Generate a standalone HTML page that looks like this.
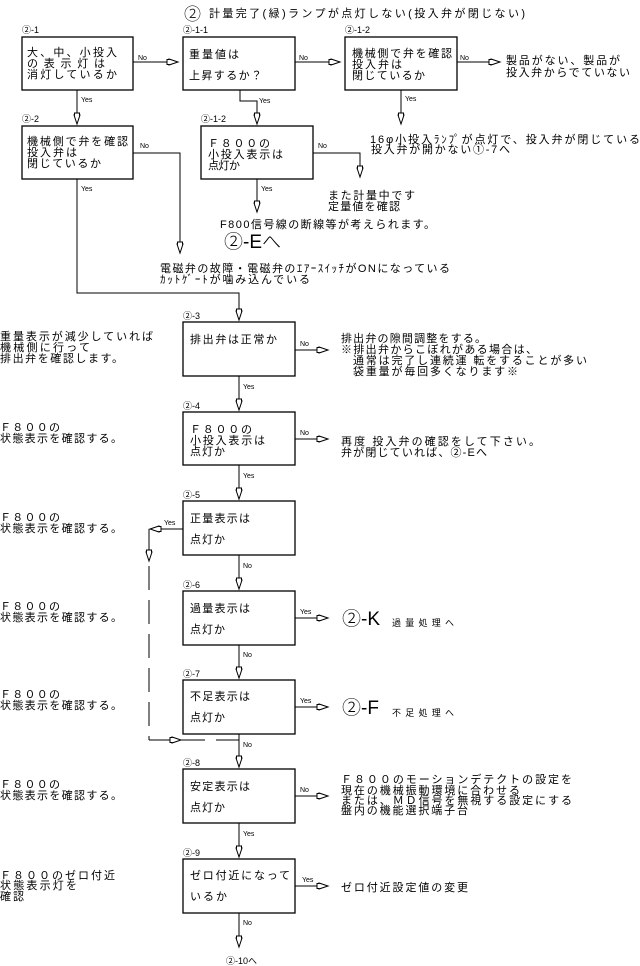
<!DOCTYPE html>
<html><head><meta charset="utf-8">
<style>
html,body{margin:0;padding:0;background:#fff;}
svg{display:block;}
text{font-family:"Liberation Sans","Noto Sans CJK JP",sans-serif;fill:#000;}
.t{font-size:11px;}
.s{font-size:9px;}
.y{font-size:7px;font-family:"Liberation Mono",monospace;}
.b{font-size:19px;font-weight:300;}
</style></head>
<body>
<svg width="640" height="966" viewBox="0 0 640 966" xmlns="http://www.w3.org/2000/svg">
<defs>
<marker id="a" markerUnits="userSpaceOnUse" markerWidth="14" markerHeight="10" refX="12" refY="4" orient="auto">
<path d="M1,1.5 L3,1.5 L3,1 L12,4 L3,7 L3,6.5 L1,6.5 Z" fill="#fff" stroke="#000" stroke-width="1"/>
</marker>
</defs>
<g stroke="#000" stroke-width="1.3" fill="none">
<!-- boxes -->
<rect x="22" y="37" width="111" height="53"/>
<rect x="183" y="37" width="112" height="53"/>
<rect x="345" y="37" width="112" height="53"/>
<rect x="22" y="126" width="111" height="53"/>
<rect x="201" y="126" width="112" height="53"/>
<rect x="183" y="322" width="112" height="54"/>
<rect x="183" y="412" width="112" height="53"/>
<rect x="183" y="501" width="112" height="54"/>
<rect x="183" y="591" width="112" height="54"/>
<rect x="183" y="680" width="112" height="54"/>
<rect x="183" y="769" width="112" height="54"/>
<rect x="183" y="859" width="112" height="54"/>
</g>
<g stroke="#000" stroke-width="1" fill="none" marker-end="url(#a)">
<path d="M133,62 H178"/>
<path d="M295,62 H340"/>
<path d="M457,62 H500"/>
<path d="M77,90 V124"/>
<path d="M240,90 V101 H257 V124"/>
<path d="M401,90 V124"/>
<path d="M133,153 H180 V253"/>
<path d="M313,153 H360 V177"/>
<path d="M257,179 V212"/>
<path d="M77,179 V293 H239 V320"/>
<path d="M295,350 H328"/>
<path d="M239,376 V410"/>
<path d="M295,439 H328"/>
<path d="M239,465 V499"/>
<path d="M183,529 H150"/>
<path d="M149,529 V561"/>
<path d="M239,555 V589"/>
<path d="M295,618 H328"/>
<path d="M239,645 V678"/>
<path d="M295,707 H328"/>
<path d="M149,740 H181"/>
<path d="M239,734 V767"/>
<path d="M295,796 H328"/>
<path d="M239,823 V857"/>
<path d="M295,886 H328"/>
<path d="M239,913 V947"/>
</g>
<g stroke="#000" stroke-width="1" fill="none">
<path d="M149,566 V740" stroke-dasharray="24 10"/>
<path d="M180,740 H205 M216,740 H239"/>
</g>
<!-- title -->
<text class="b" x="184" y="20" style="font-size:17px">②</text>
<text class="t" x="209" y="17" textLength="316" lengthAdjust="spacing">計量完了(緑)ランプが点灯しない(投入弁が閉じない)</text>
<!-- step labels -->
<text class="s" x="22" y="33">②-1</text>
<text class="s" x="183" y="33">②-1-1</text>
<text class="s" x="345" y="33">②-1-2</text>
<text class="s" x="22" y="122">②-2</text>
<text class="s" x="201" y="122">②-1-2</text>
<text class="s" x="183" y="319">②-3</text>
<text class="s" x="183" y="409">②-4</text>
<text class="s" x="183" y="498">②-5</text>
<text class="s" x="183" y="588">②-6</text>
<text class="s" x="183" y="677">②-7</text>
<text class="s" x="183" y="766">②-8</text>
<text class="s" x="183" y="856">②-9</text>
<!-- yes/no -->
<g class="y">
<text x="138" y="60">No</text><text x="299" y="60">No</text><text x="460" y="60">No</text>
<text x="81" y="102">Yes</text><text x="259" y="103">Yes</text><text x="405" y="101">Yes</text>
<text x="140" y="148">No</text><text x="318" y="148">No</text>
<text x="81" y="191">Yes</text><text x="261" y="191">Yes</text>
<text x="300" y="346">No</text><text x="243" y="389">Yes</text>
<text x="300" y="435">No</text><text x="243" y="478">Yes</text>
<text x="164" y="525">Yes</text><text x="243" y="568">No</text>
<text x="300" y="614">Yes</text><text x="243" y="657">No</text>
<text x="300" y="703">Yes</text><text x="243" y="747">No</text>
<text x="300" y="792">No</text><text x="243" y="836">Yes</text>
<text x="302" y="882">Yes</text><text x="243" y="925">No</text>
</g>
<!-- box texts -->
<g class="t">
<text x="27" y="56" textLength="90">大、中、小投入</text>
<text x="27" y="67" textLength="78">の表示灯は</text>
<text x="27" y="78" textLength="90">消灯しているか</text>
<text x="189" y="58" textLength="50">重量値は</text>
<text x="189" y="79" textLength="73">上昇するか？</text>
<text x="352" y="57" textLength="100">機械側で弁を確認</text>
<text x="352" y="68" textLength="50">投入弁は</text>
<text x="352" y="79" textLength="73">閉じているか</text>
<text x="506" y="64" textLength="114">製品がない、製品が</text>
<text x="506" y="76" textLength="124">投入弁からでていない</text>
<text x="27" y="145" textLength="101">機械側で弁を確認</text>
<text x="27" y="156" textLength="50">投入弁は</text>
<text x="27" y="167" textLength="74">閉じているか</text>
<text x="208" y="147" textLength="62">Ｆ８００の</text>
<text x="208" y="158" textLength="75">小投入表示は</text>
<text x="208" y="169" textLength="32">点灯か</text>
<text x="370" y="143" textLength="270">16φ小投入ﾗﾝﾌﾟが点灯で、投入弁が閉じている</text>
<text x="371" y="153" textLength="139">投入弁が開かない①-7へ</text>
<text x="328" y="199" textLength="87">また計量中です</text>
<text x="328" y="210" textLength="72">定量値を確認</text>
<text x="220" y="228" textLength="215">F800信号線の断線等が考えられます。</text>
<text x="160" y="272" textLength="290">電磁弁の故障・電磁弁のｴｱｰｽｲｯﾁがONになっている</text>
<text x="160" y="283" textLength="150">ｶｯﾄｹﾞｰﾄが噛み込んでいる</text>
<text x="0" y="340" textLength="153">重量表示が減少していれば</text>
<text x="0" y="351" textLength="90">機械側に行って</text>
<text x="0" y="362" textLength="123">排出弁を確認します。</text>
<text x="190" y="343" textLength="87">排出弁は正常か</text>
<text x="341" y="342" textLength="145">排出弁の隙間調整をする。</text>
<text x="341" y="353" textLength="196">※排出弁からこぼれがある場合は、</text>
<text x="353" y="364" textLength="234">通常は完了し連続運 転をすることが多い</text>
<text x="353" y="375" textLength="165">袋重量が毎回多くなります※</text>
<text x="0" y="431" textLength="60">Ｆ８００の</text>
<text x="0" y="442" textLength="122">状態表示を確認する。</text>
<text x="190" y="433" textLength="62">Ｆ８００の</text>
<text x="190" y="444" textLength="75">小投入表示は</text>
<text x="190" y="455" textLength="35">点灯か</text>
<text x="341" y="445" textLength="199">再度 投入弁の確認をして下さい。</text>
<text x="341" y="456" textLength="146">弁が閉じていれば、②-Eへ</text>
<text x="0" y="521" textLength="60">Ｆ８００の</text>
<text x="0" y="532" textLength="122">状態表示を確認する。</text>
<text x="190" y="522" textLength="60">正量表示は</text>
<text x="190" y="543" textLength="35">点灯か</text>
<text x="0" y="610" textLength="60">Ｆ８００の</text>
<text x="0" y="621" textLength="122">状態表示を確認する。</text>
<text x="190" y="612" textLength="60">過量表示は</text>
<text x="190" y="633" textLength="35">点灯か</text>
<text x="0" y="698" textLength="60">Ｆ８００の</text>
<text x="0" y="709" textLength="122">状態表示を確認する。</text>
<text x="190" y="700" textLength="60">不足表示は</text>
<text x="190" y="721" textLength="35">点灯か</text>
<text x="0" y="788" textLength="60">Ｆ８００の</text>
<text x="0" y="799" textLength="122">状態表示を確認する。</text>
<text x="190" y="790" textLength="60">安定表示は</text>
<text x="190" y="811" textLength="35">点灯か</text>
<text x="341" y="783" textLength="231">Ｆ８００のモーションデテクトの設定を</text>
<text x="341" y="794" textLength="179">現在の機械振動環境に合わせる</text>
<text x="341" y="804" textLength="231">または、ＭＤ信号を無視する設定にする</text>
<text x="341" y="814" textLength="127">盤内の機能選択端子台</text>
<text x="0" y="879" textLength="115">Ｆ８００のゼロ付近</text>
<text x="0" y="889" textLength="77">状態表示灯を</text>
<text x="0" y="900" textLength="24">確認</text>
<text x="190" y="879" textLength="100">ゼロ付近になって</text>
<text x="190" y="900" textLength="37">いるか</text>
<text x="341" y="891" textLength="127">ゼロ付近設定値の変更</text>
</g>
<text class="b" x="224" y="248">②-Eへ</text>
<text class="b" x="342" y="625">②-K</text>
<text class="s" x="392" y="626" textLength="62">過量処理へ</text>
<text class="b" x="342" y="714">②-F</text>
<text class="s" x="392" y="716" textLength="62">不足処理へ</text>
<text class="s" x="226" y="964">②-10へ</text>
</svg>
</body></html>
